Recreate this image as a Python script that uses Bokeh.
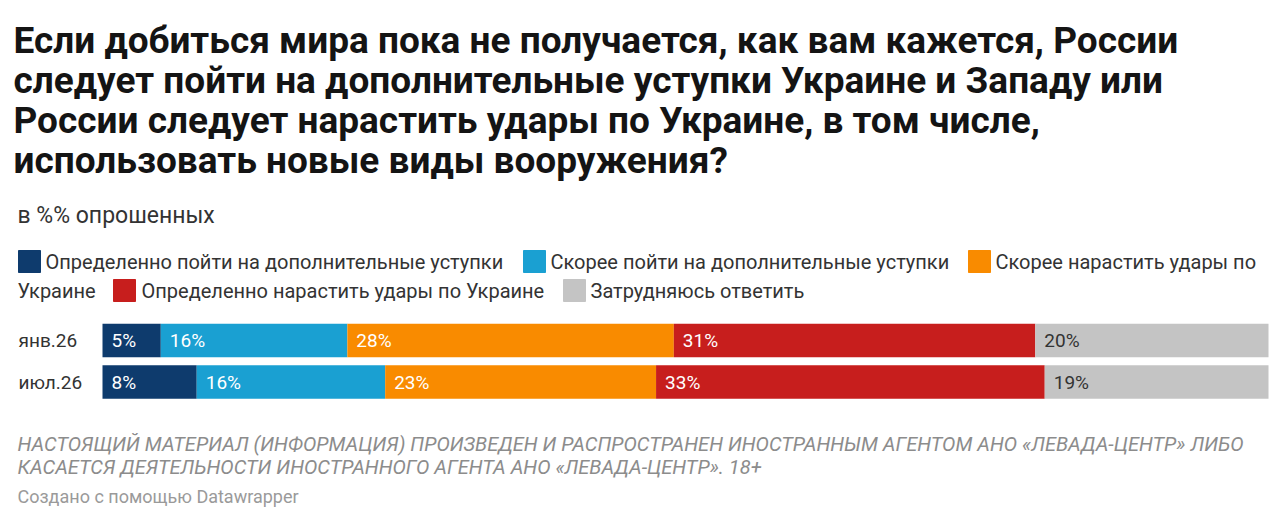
from bokeh.plotting import figure
from bokeh.models import Range1d, Label, ColumnDataSource
from bokeh.core.properties import value
from bokeh.embed import file_html
from bokeh.resources import INLINE

# ---------------- data ----------------
title_lines = [
    "Если добиться мира пока не получается, как вам кажется, России",
    "следует пойти на дополнительные уступки Украине и Западу или",
    "России следует нарастить удары по Украине, в том числе,",
    "использовать новые виды вооружения?",
]
subtitle = "в %% опрошенных"
categories = ["янв.26", "июл.26"]
series = [
    "Определенно пойти на дополнительные уступки",
    "Скорее пойти на дополнительные уступки",
    "Скорее нарастить удары по Украине",
    "Определенно нарастить удары по Украине",
    "Затрудняюсь ответить",
]
colors = ["#0e3b6d", "#1aa0d2", "#f98b00", "#c71e1d", "#c4c4c4"]
label_colors = ["white", "white", "white", "white", "#333333"]
values_jan = [5, 16, 28, 31, 20]
values_jul = [8, 16, 23, 33, 19]
footer_lines = [
    "НАСТОЯЩИЙ МАТЕРИАЛ (ИНФОРМАЦИЯ) ПРОИЗВЕДЕН И РАСПРОСТРАНЕН ИНОСТРАННЫМ АГЕНТОМ АНО «ЛЕВАДА-ЦЕНТР» ЛИБО",
    "КАСАЕТСЯ ДЕЯТЕЛЬНОСТИ ИНОСТРАННОГО АГЕНТА АНО «ЛЕВАДА-ЦЕНТР». 18+",
]
credit = "Создано с помощью Datawrapper"

# ---------------- layout ----------------
W, H = 1272, 518
FONT = "Roboto"
bar_left_px, bar_right_px = 102, 1268
pxu = (bar_right_px - bar_left_px) / 100.0

p = figure(width=W, height=H, output_backend="svg", toolbar_location=None,
           x_range=Range1d(-bar_left_px / pxu, (W - bar_left_px) / pxu),
           y_range=Range1d(H, 0), min_border=0)
p.extra_x_ranges = {"px": Range1d(0, W)}
p.axis.visible = False
p.grid.visible = False
p.outline_line_color = None
p.background_fill_color = "white"
p.border_fill_color = "white"

def txt(x, y, s, size, color="#222222", style="normal", baseline="middle"):
    p.add_layout(Label(x=x, y=y, x_units="screen", y_units="data", text=s,
                       text_font=FONT, text_font_size=f"{size}px",
                       text_font_style=style, text_color=color,
                       text_baseline=baseline, text_align="left"))

# title
for i, line in enumerate(title_lines):
    txt(13, 40 + 40 * i, line, 37, color="#141414", style="bold")
txt(17, 215, subtitle, 23, color="#333333")

# legend
legend_rows = [261, 290]
legend_pos = [(0, 18, 45), (0, 523, 550), (0, 968, 995), (1, 113, 141), (1, 563, 590)]
sq = dict(x=[], y=[], color=[])
for k, (r, sx, tx) in enumerate(legend_pos):
    sq["x"].append(sx + 11)
    sq["y"].append(legend_rows[r])
    sq["color"].append(colors[k])
    label = series[k]
    if k == 2:
        words = label.split(" ")
        txt(tx, legend_rows[r], " ".join(words[:-1]), 20, color="#333333")
        txt(17, legend_rows[1], words[-1], 20, color="#333333")
    else:
        txt(tx, legend_rows[r], label, 20, color="#333333")
p.rect(x="x", y="y", width=22, height=22, color="color",
       source=ColumnDataSource(sq), x_range_name="px")

# bars
row_y = [340, 381.5]
all_vals = [values_jan, values_jul]
for ri, (cat, vals) in enumerate(zip(categories, all_vals)):
    total = float(sum(vals))
    shares = [v / total * 100 for v in vals]
    lefts, rights = [], []
    acc = 0.0
    for s in shares:
        lefts.append(acc)
        acc += s
        rights.append(acc)
    src = ColumnDataSource(dict(y=[row_y[ri]] * len(vals), left=lefts, right=rights,
                                color=colors, lab=[f"{v}%" for v in vals],
                                lc=label_colors))
    p.hbar(y="y", left="left", right="right", height=33.5, color="color",
           line_color=None, source=src)
    p.text(x="left", y="y", text="lab", text_color="lc", x_offset=9,
           text_font=value(FONT), text_font_size="19px", text_baseline="middle",
           text_align="left", source=src)
    txt(18, row_y[ri], cat, 19, color="#333333")

# footer
txt(17, 443, footer_lines[0], 20, color="#8c8c8c", style="italic")
txt(17, 466, footer_lines[1], 20, color="#8c8c8c", style="italic")
txt(17, 496, credit, 18, color="#9a9a9a")

open("out.html", "w").write(file_html(p, INLINE))
